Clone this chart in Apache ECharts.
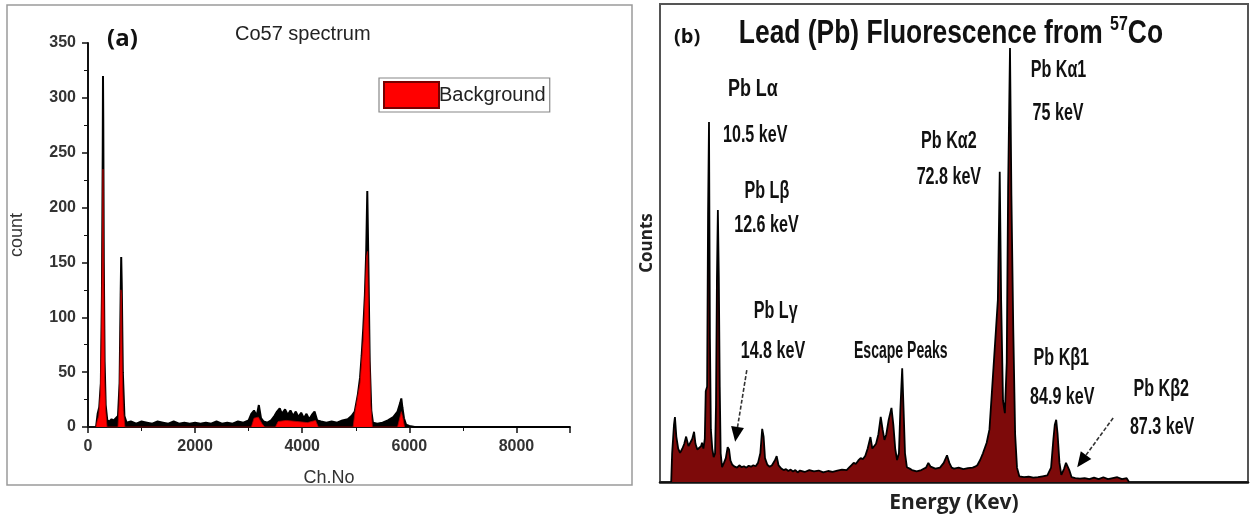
<!DOCTYPE html>
<html>
<head>
<meta charset="utf-8">
<script src="https://cdn.jsdelivr.net/npm/echarts@6/dist/echarts.min.js"></script>
<style>
html,body{margin:0;padding:0;background:#fff;}
#main{width:1250px;height:521px;}
</style>
</head>
<body>
<div id="main"></div>
<script>
// ---------- Panel (a): Co57 spectrum (channel number vs count) ----------
const aRawChannel = [150,180,210,240,260,275,280,285,295,310,330,360,400,440,480,520,560,590,610,620,630,650,680,720,800,900,1000,1100,1200,1300,1400,1500,1600,1700,1800,1900,2000,2100,2200,2300,2400,2500,2600,2700,2800,2900,3000,3050,3100,3150,3190,3230,3280,3350,3420,3480,3530,3580,3620,3680,3730,3780,3830,3880,3930,3980,4030,4080,4130,4180,4230,4280,4350,4450,4550,4650,4750,4850,4920,4980,5040,5080,5110,5140,5170,5195,5215,5235,5260,5290,5320,5400,5500,5600,5700,5780,5830,5850,5870,5900,5940,6000,6100,9000];
const aRawCount   = [0,12,18,40,120,250,320,280,150,60,20,6,5,7,6,8,10,40,120,155,130,50,10,4,5,3,5,4,3,5,4,3,5,3,4,3,4,3,4,3,5,3,4,3,5,4,6,12,15,10,20,8,5,4,6,10,14,17,12,16,11,15,10,14,9,13,8,12,7,11,14,6,5,4,5,4,6,7,10,14,30,45,65,90,120,160,215,150,60,15,4,3,4,6,9,14,22,26,18,8,2,1,0,0];
const aBgChannel  = [150,170,200,230,250,265,280,295,310,330,355,560,580,600,615,625,640,660,690,3050,3100,3180,3250,3300,3500,3550,3700,3900,4100,4250,4300,4950,4990,5080,5140,5170,5200,5220,5240,5280,5310,5780,5830,5850,5880,5910];
const aBgCount    = [0,5,10,30,80,150,235,130,45,15,0,0,20,70,125,120,50,15,0,0,8,9,3,0,0,5,6,5,4,6,0,0,15,40,80,115,155,160,100,20,0,0,10,14,8,0];
const aYTicks = {min:0, max:350, step:50};
const aXTicks = {min:0, max:9000, step:2000};

// ---------- Panel (b): Lead fluorescence from 57Co (energy keV vs counts) ----------
const bEnergy = [2.4,2.6,3.0,3.2,3.5,3.9,4.3,4.8,5.2,5.6,5.8,6.1,6.5,6.9,7.3,7.6,8.0,8.4,8.8,9.0,9.3,9.6,9.8,10.1,10.3,10.5,10.7,10.9,11.2,11.5,11.8,12.0,12.2,12.4,12.6,12.8,13.0,13.3,13.7,14.1,14.5,14.8,15.1,15.5,16.0,16.5,17.0,17.5,18.0,18.5,19.0,19.5,20.0,20.5,21.0,21.5,21.9,22.2,22.5,23.0,23.5,24.0,24.6,25.0,25.4,26.0,26.5,27.0,27.5,28.0,28.5,29.0,29.5,30,31,32,33,34,35,36,37,38,39,40,40.5,41,41.5,42,42.5,43,43.5,44,44.5,45.1,45.5,45.9,46.3,46.8,47.3,47.7,48.1,48.5,49.0,49.6,50.0,50.4,50.8,51.2,51.5,51.9,52.2,52.5,52.9,53.5,54,55,56,57,57.5,58,59,60,60.8,61.5,62,62.5,63,64,65,66,67,67.5,68,68.6,69.2,70,70.6,71.2,72.0,72.4,72.8,73.1,73.5,73.9,74.3,74.6,75.0,75.3,75.7,76.1,76.5,77.0,78,79,80,81,82,83,83.8,84.3,84.6,84.9,85.2,85.6,86.0,86.6,87.0,87.3,87.7,88.2,89,90,91,92,93,94,95,96,97,98,99,100,100.5];
const bCounts = [0,60,120,136,95,70,61,70,80,95,98,75,72,90,105,80,68,66,75,82,70,90,190,200,560,753,300,110,70,52,60,160,423,569,430,200,60,31,40,50,73,68,45,36,32,30,35,31,33,30,34,32,35,33,40,60,111,95,50,36,32,35,45,54,35,28,25,27,23,26,22,25,20,24,21,25,22,24,20,23,21,24,26,25,30,35,40,38,45,50,48,55,70,94,70,67,80,100,136,110,88,100,130,155,120,70,46,60,150,238,150,60,31,28,25,22,25,30,40,32,28,30,40,56,40,30,28,30,27,29,30,32,35,46,60,82,110,200,320,381,649,380,170,144,250,617,908,600,320,100,30,12,10,11,9,10,12,14,30,90,120,130,100,40,15,28,40,42,25,10,8,7,8,6,9,6,10,6,8,10,6,8,0];
const bRange = {xmin:0, xmax:126, ymin:0, ymax:1000};

// peak annotations of panel (b): [text, energy, counts]
const bLabels = [
  ['Pb L\u03b1', 19.9, 820], ['10.5 keV', 20.4, 724],
  ['Pb L\u03b2', 22.9, 607], ['12.6 keV', 22.8, 537],
  ['Pb L\u03b3', 24.8, 356], ['14.8 keV', 24.2, 272],
  ['Escape Peaks', 51.6, 272],
  ['Pb K\u03b12', 61.9, 713], ['72.8 keV', 61.9, 636],
  ['Pb K\u03b11', 85.4, 860], ['75 keV', 85.3, 770],
  ['Pb K\u03b21', 86.0, 258], ['84.9 keV', 86.2, 176],
  ['Pb K\u03b22', 107.4, 193], ['87.3 keV', 107.6, 113]
];
// arrows: [fromEnergy, fromCounts, toEnergy, toCounts]
const bArrows = [[18.6, 234, 16.1, 84], [97.1, 134, 89.4, 31]];

const pairs = (xs, ys) => xs.map((x, i) => [x, ys[i]]);

const chart = echarts.init(document.getElementById('main'), null, {renderer: 'canvas'});
const arial = '"Liberation Sans", Arial, sans-serif';
const calibri = '"Open Sans", sans-serif';
// horizontal squeeze imitating the condensed face of the original labels
const condensed = {default: 0.7, 'Escape Peaks': 0.61, 'Pb L\u03b1': 0.78};

const option = {
  backgroundColor: '#fff',
  animation: false,
  title: [
    {text: 'Co57 spectrum', left: 235, top: 24, padding: 0,
     textStyle: {fontSize: 20, fontWeight: 'normal', color: '#222', fontFamily: arial}},
    {text: '(a)', left: 107, top: 27, padding: 0,
     textStyle: {fontSize: 24, fontWeight: 'bold', color: '#111', fontFamily: calibri}},
    {text: '(b)', left: 674, top: 27, padding: 0,
     textStyle: {fontSize: 20, fontWeight: 'bold', color: '#111', fontFamily: calibri}}
  ],
  legend: {
    left: 379, top: 78, padding: [3, 4, 3, 4], itemGap: 0,
    borderColor: '#888', borderWidth: 1.2,
    itemWidth: 55, itemHeight: 26,
    data: [{name: 'Background', icon: 'rect'}],
    textStyle: {fontSize: 20, color: '#222', fontFamily: arial, padding: [0, 0, 0, -5]}
  },
  grid: [
    {left: 88, top: 43, width: 482, height: 384},
    {left: 660, top: 4, width: 588, height: 478, show: true, borderColor: '#555', borderWidth: 2}
  ],
  xAxis: [
    {gridIndex: 0, type: 'value', min: aXTicks.min, max: aXTicks.max, interval: aXTicks.step,
     name: 'Ch.No', nameLocation: 'middle', nameGap: 42,
     nameTextStyle: {fontSize: 18, color: '#333', fontFamily: arial},
     axisLine: {lineStyle: {color: '#111', width: 2}},
     axisTick: {length: 6, lineStyle: {color: '#111', width: 1.5}},
     minorTick: {show: true, splitNumber: 2, length: 4, lineStyle: {color: '#111'}},
     splitLine: {show: false},
     axisLabel: {margin: 12, fontSize: 16, fontWeight: 'bold', color: '#333', fontFamily: arial,
                 showMaxLabel: false, formatter: v => String(v)}},
    {gridIndex: 1, type: 'value', min: bRange.xmin, max: bRange.xmax,
     name: 'Energy (Kev)', nameLocation: 'middle', nameGap: 11,
     nameTextStyle: {fontSize: 21, fontWeight: 'bold', color: '#222', fontFamily: calibri, verticalAlign: 'top'},
     axisLine: {lineStyle: {color: '#111', width: 2.5}},
     axisTick: {show: false}, axisLabel: {show: false}, splitLine: {show: false}}
  ],
  yAxis: [
    {gridIndex: 0, type: 'value', min: aYTicks.min, max: aYTicks.max, interval: aYTicks.step,
     name: 'count', nameLocation: 'middle', nameGap: 62,
     nameTextStyle: {fontSize: 18, color: '#333', fontFamily: arial},
     axisLine: {show: true, lineStyle: {color: '#111', width: 2}},
     axisTick: {show: true, length: 6, lineStyle: {color: '#111', width: 1.5}},
     minorTick: {show: true, splitNumber: 2, length: 4, lineStyle: {color: '#111'}},
     splitLine: {show: false},
     axisLabel: {margin: 12, fontSize: 16, fontWeight: 'bold', color: '#333', fontFamily: arial}},
    {gridIndex: 1, type: 'value', min: bRange.ymin, max: bRange.ymax,
     name: 'Counts', nameLocation: 'middle', nameGap: 4,
     nameTextStyle: {fontSize: 17, fontWeight: 'bold', color: '#222', fontFamily: calibri},
     axisLine: {show: true, lineStyle: {color: '#555', width: 1.5}},
     axisTick: {show: false}, axisLabel: {show: false}, splitLine: {show: false}}
  ],
  series: [
    {name: 'Co57 raw', type: 'line', xAxisIndex: 0, yAxisIndex: 0,
     data: pairs(aRawChannel, aRawCount), showSymbol: false, symbol: 'none',
     lineStyle: {width: 2, color: '#000'}, areaStyle: {color: '#000', opacity: 1}, z: 1},
    {name: 'Background', type: 'line', xAxisIndex: 0, yAxisIndex: 0,
     data: pairs(aBgChannel, aBgCount), showSymbol: false, symbol: 'none',
     lineStyle: {width: 0.8, color: '#b00000'}, itemStyle: {color: '#ff0000', borderColor: '#700', borderWidth: 1},
     areaStyle: {color: '#ff0000', opacity: 1}, z: 2},
    {name: 'Pb fluorescence', type: 'line', xAxisIndex: 1, yAxisIndex: 1,
     data: pairs(bEnergy, bCounts), showSymbol: false, symbol: 'none',
     lineStyle: {width: 1.8, color: '#000'},
     areaStyle: {color: '#7d0a0a', opacity: 1}, z: 2}
  ],
  graphic: []
};
chart.setOption(option);

// frame around panel (a)
const gfx = [{type: 'rect', shape: {x: 7, y: 5, width: 625, height: 480}, silent: true,
              style: {fill: 'none', stroke: '#9a9a9a', lineWidth: 1.5}, z: 0}];
const toPx = (e, c) => chart.convertToPixel({xAxisIndex: 1, yAxisIndex: 1}, [e, c]);
// condensed title of panel (b)
const tp = toPx(16.9, 938);
gfx.push({type: 'text', x: tp[0], y: tp[1], scaleX: 0.8, silent: true, z: 10,
  style: {text: '{m|Lead (Pb) Fluorescence from }{s|57}{m|Co}', align: 'left', verticalAlign: 'middle',
    rich: {
      m: {fontSize: 33, fontWeight: 'bold', fill: '#111', fontFamily: arial, lineHeight: 38},
      s: {fontSize: 20, fontWeight: 'bold', fill: '#111', fontFamily: arial, verticalAlign: 'top', lineHeight: 20}
    }}});
// annotations anchored to data coordinates of panel (b)
bLabels.forEach(([t, e, c]) => {
  const p = toPx(e, c);
  gfx.push({type: 'text', x: p[0], y: p[1], scaleX: condensed[t] || condensed.default, silent: true, z: 10,
    style: {text: t, fontSize: 23, fontWeight: 'bold', fontFamily: arial, fill: '#111', align: 'center', verticalAlign: 'middle'}});
});
bArrows.forEach(([e1, c1, e2, c2]) => {
  const a = toPx(e1, c1), b = toPx(e2, c2);
  const dx = b[0] - a[0], dy = b[1] - a[1], L = Math.hypot(dx, dy);
  const ux = dx / L, uy = dy / L, hl = 15, hw = 6.5;
  const bx = b[0] - ux * hl, by = b[1] - uy * hl;
  gfx.push({type: 'line', silent: true, z: 10, shape: {x1: a[0], y1: a[1], x2: bx, y2: by},
    style: {stroke: '#333', lineWidth: 1.6, lineDash: [4, 2]}});
  gfx.push({type: 'polygon', silent: true, z: 10,
    shape: {points: [[b[0], b[1]], [bx - uy * hw, by + ux * hw], [bx + uy * hw, by - ux * hw]]},
    style: {fill: '#000'}});
});
chart.setOption({graphic: gfx});
</script>
</body>
</html>
